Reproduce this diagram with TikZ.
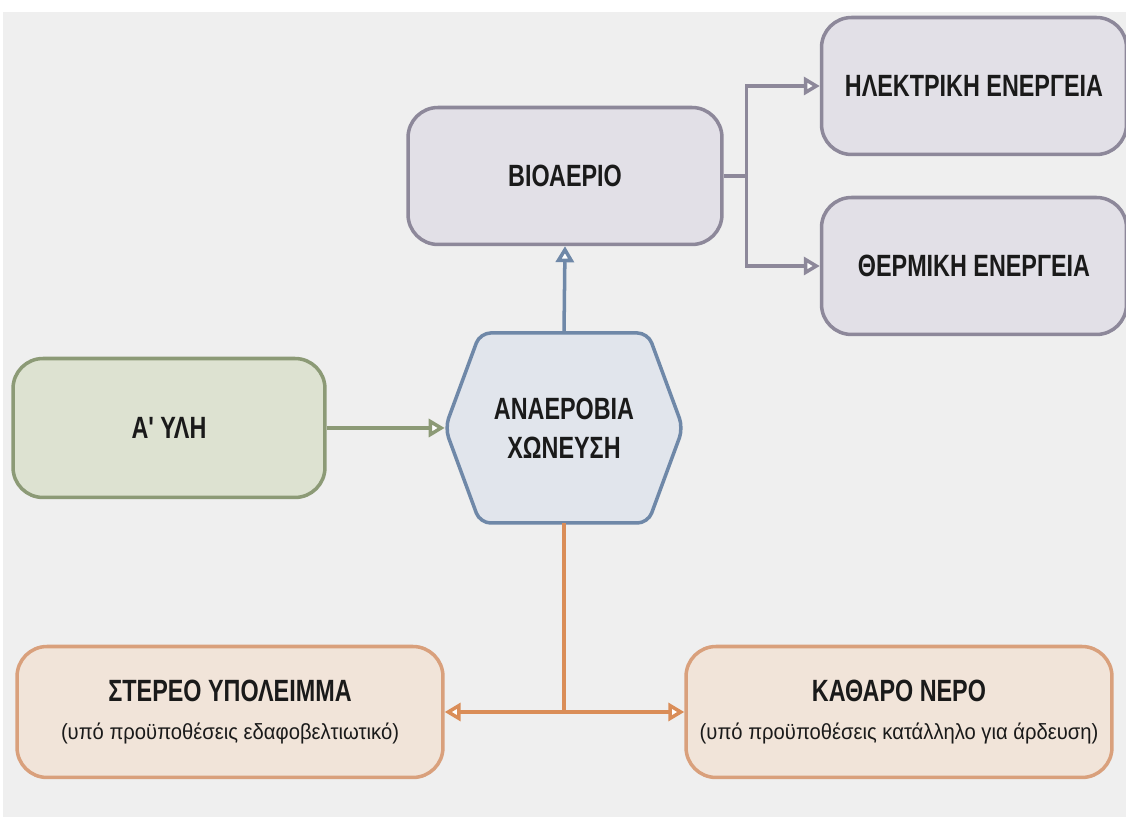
\documentclass[tikz,border=0pt]{standalone}
\usepackage{fontspec}
\usepackage{tikz}
\usetikzlibrary{arrows.meta,positioning,calc}
\newfontfamily\dgfont[FakeStretch=0.76]{Liberation Sans}
\newfontfamily\dgsubfont[FakeStretch=0.92]{Liberation Sans}
\newcommand{\dgnote}[1]{{\dgsubfont\mdseries\fontsize{12.5}{15}\selectfont #1}}
\definecolor{dgback}{HTML}{EFEFEF}
\definecolor{dggrayfill}{HTML}{E2E0E7}
\definecolor{dggraydraw}{HTML}{8D889A}
\definecolor{dggreenfill}{HTML}{DDE2D1}
\definecolor{dggreendraw}{HTML}{8C9A76}
\definecolor{dgbluefill}{HTML}{E1E5EC}
\definecolor{dgbluedraw}{HTML}{6F88A8}
\definecolor{dgorangefill}{HTML}{F1E4D9}
\definecolor{dgorangedraw}{HTML}{D9A07C}
\definecolor{dgorangeline}{HTML}{DA8D58}
\definecolor{dgink}{HTML}{1A1A1A}
\tikzset{
  baseBox/.style={rounded corners=0.6cm, line width=2pt, align=center, text=dgink, inner sep=4pt, font=\dgfont\bfseries\fontsize{17.5}{22}\selectfont},
  grayBox/.style={baseBox, draw=dggraydraw, fill=dggrayfill, minimum width=6.1cm, minimum height=2.74cm},
  greenBox/.style={baseBox, draw=dggreendraw, fill=dggreenfill, minimum width=6.24cm, minimum height=2.78cm},
  orangeBox/.style={baseBox, draw=dgorangedraw, fill=dgorangefill, minimum width=8.52cm, minimum height=2.62cm},
  hexShape/.style={line width=2pt, draw=dgbluedraw, fill=dgbluefill, rounded corners=6pt},
  hexText/.style={align=center, text=dgink, inner sep=0pt, minimum width=4.76cm, minimum height=3.8cm, font=\dgfont\bfseries\fontsize{17.5}{22}\selectfont},
  grayLine/.style={draw=dggraydraw, line width=2pt},
  grayArrow/.style={grayLine, -{Triangle[length=3.2mm, width=3.6mm, fill=white]}},
  greenArrow/.style={draw=dggreendraw, line width=2pt, -{Triangle[length=3.2mm, width=3.6mm, fill=white]}},
  blueArrow/.style={draw=dgbluedraw, line width=2pt, -{Triangle[length=3.2mm, width=3.6mm, fill=white]}},
  orangeLine/.style={draw=dgorangeline, line width=2pt},
  orangeArrow/.style={orangeLine, -{Triangle[length=3.2mm, width=3.6mm, fill=white]}}
}
\begin{document}
\begin{tikzpicture}[x=0.02cm,y=0.02cm]
  \useasboundingbox (0,0) rectangle (1126,817);
  \fill[white] (0,0) rectangle (1126,817);
  \fill[dgback] (3,0) rectangle (1126,805);
  % boxes
  \node[grayBox, minimum width=6.28cm] (bioBox) at (565,641) {ΒΙΟΑΕΡΙΟ};
  \node[grayBox] (elecBox) at (974,731) {ΗΛΕΚΤΡΙΚΗ ΕΝΕΡΓΕΙΑ};
  \node[grayBox] (thermBox) at (974,551) {ΘΕΡΜΙΚΗ ΕΝΕΡΓΕΙΑ};
  \node[greenBox] (feedBox) at (169,389) {Α' ΥΛΗ};
  \coordinate (digestC) at (564,389);
  \draw[hexShape] ($(digestC)+(-119,0)$) -- ($(digestC)+(-84,95)$) -- ($(digestC)+(84,95)$)
    -- ($(digestC)+(119,0)$) -- ($(digestC)+(84,-95)$) -- ($(digestC)+(-84,-95)$) -- cycle;
  \node[hexText] (digest) at (digestC) {ΑΝΑΕΡΟΒΙΑ\\ΧΩΝΕΥΣΗ};
  \node[orangeBox] (solidBox) at (230,105) {ΣΤΕΡΕΟ ΥΠΟΛΕΙΜΜΑ\\\dgnote{(υπό προϋποθέσεις εδαφοβελτιωτικό)}};
  \node[orangeBox] (waterBox) at (899,105) {ΚΑΘΑΡΟ ΝΕΡΟ\\\dgnote{(υπό προϋποθέσεις κατάλληλο για άρδευση)}};
  % connectors
  \draw[greenArrow] (feedBox.east) -- (digest.west);
  \draw[blueArrow] (digest.north) -- (bioBox.south);
  \coordinate (bioSplit) at ([xshift=0.46cm]bioBox.east);
  \draw[grayLine] (bioBox.east) -- (bioSplit);
  \draw[grayArrow] (bioSplit) |- (elecBox.west);
  \draw[grayArrow] (bioSplit) |- (thermBox.west);
  \coordinate (outSplit) at (digest.south |- solidBox.east);
  \draw[orangeLine] (digest.south) -- (outSplit);
  \draw[orangeArrow] (outSplit) -- (solidBox.east);
  \draw[orangeArrow] (outSplit) -- (waterBox.west);
\end{tikzpicture}
\end{document}
